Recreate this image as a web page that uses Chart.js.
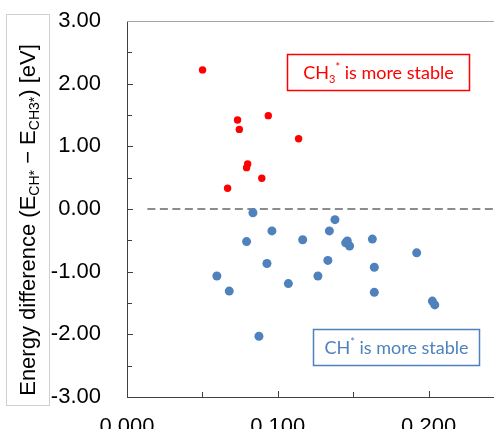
<!DOCTYPE html>
<html>
<head>
<meta charset="utf-8">
<script src="https://cdn.jsdelivr.net/npm/chart.js@4.4.1/dist/chart.umd.min.js"></script>
<style>
  html, body { margin: 0; padding: 0; background: #fff; overflow: hidden; width: 494px; height: 429px; }
  #wrap { position: absolute; left: 0; top: 0; width: 540px; height: 450px; }
</style>
</head>
<body>
<div id="wrap"><canvas id="energyChart" width="540" height="450"></canvas></div>
<script>
// points where CH3* is more stable (red)
const ch3X = [0.0501, 0.0733, 0.0745, 0.0937, 0.1138, 0.0800, 0.0793, 0.0894, 0.0667];
const ch3Y = [2.22, 1.42, 1.27, 1.49, 1.12, 0.72, 0.66, 0.49, 0.33];

// points where CH* is more stable (blue)
const chX = [0.0835, 0.0961, 0.0793, 0.1165, 0.0928, 0.0596, 0.0678, 0.1070, 0.0875, 0.1266,
             0.1379, 0.1342, 0.1332, 0.1450, 0.1461, 0.1476, 0.1627, 0.1640, 0.1640, 0.1921,
             0.2025, 0.2041];
const chY = [-0.06, -0.35, -0.52, -0.49, -0.87, -1.07, -1.31, -1.19, -2.03, -1.07,
             -0.17, -0.35, -0.82, -0.54, -0.51, -0.59, -0.48, -0.93, -1.33, -0.70,
             -1.47, -1.53];

// dashed zero line
const zeroX = [0.0135, 0.25];
const zeroY = [0, 0];

// tick labels
const xTickValues = [0, 0.1, 0.2];
const xTickLabels = ['0.000', '0.100', '0.200'];
const yTickValues = [-3, -2, -1, 0, 1, 2, 3];
const yTickLabels = ['-3.00', '-2.00', '-1.00', '0.00', '1.00', '2.00', '3.00'];

const toPoints = (xs, ys) => xs.map((x, i) => ({ x: x, y: ys[i] }));

function labelFor(values, labels, v) {
    const i = values.findIndex(t => Math.abs(t - v) < 1e-6);
    return i >= 0 ? labels[i] : '';
}

// inward tick marks + top frame line
const tickMarks = {
    id: 'tickMarks',
    afterDraw(chart) {
        const ctx = chart.ctx;
        const area = chart.chartArea;
        const xs = chart.scales.x, ys = chart.scales.y;
        ctx.save();
        ctx.strokeStyle = '#404040';
        ctx.lineWidth = 1;
        ctx.beginPath();
        xs.ticks.forEach(t => {
            const px = Math.round(xs.getPixelForValue(t.value)) + 0.5;
            const major = xTickValues.some(v => Math.abs(v - t.value) < 1e-6);
            ctx.moveTo(px, area.bottom);
            ctx.lineTo(px, area.bottom - (major ? 6 : 5));
        });
        ys.ticks.forEach(t => {
            const py = Math.round(ys.getPixelForValue(t.value)) + 0.5;
            const major = Number.isInteger(t.value);
            ctx.moveTo(area.left, py);
            ctx.lineTo(area.left + (major ? 6 : 5), py);
        });
        ctx.stroke();
        ctx.strokeStyle = '#a6a6a6';
        ctx.beginPath();
        ctx.moveTo(area.left, Math.round(area.top) + 0.5);
        ctx.lineTo(area.right, Math.round(area.top) + 0.5);
        ctx.stroke();
        ctx.restore();
    }
};

// rotated y title with subscripts, inside a light grey box
const yTitle = {
    id: 'yTitle',
    afterDraw(chart) {
        const ctx = chart.ctx;
        const parts = [
            { t: 'Energy difference (E', sub: false },
            { t: 'CH*', sub: true },
            { t: ' \u2212 E', sub: false },
            { t: 'CH3*', sub: true },
            { t: ') [eV]', sub: false }
        ];
        const big = '22px "Liberation Sans", Arial, sans-serif';
        const small = '14px "Liberation Sans", Arial, sans-serif';
        ctx.save();
        ctx.strokeStyle = '#d0d0d0';
        ctx.lineWidth = 1;
        ctx.strokeRect(6.5, 14.5, 43, 391);
        ctx.fillStyle = '#000';
        let total = 0;
        parts.forEach(p => {
            ctx.font = p.sub ? small : big;
            p.w = ctx.measureText(p.t).width;
            total += p.w;
        });
        ctx.translate(35, 220);
        ctx.rotate(-Math.PI / 2);
        ctx.textBaseline = 'alphabetic';
        let pos = -total / 2;
        parts.forEach(p => {
            ctx.font = p.sub ? small : big;
            ctx.fillText(p.t, pos, p.sub ? 4 : 0);
            pos += p.w;
        });
        ctx.restore();
    }
};

// the two "is more stable" notes
const notes = {
    id: 'notes',
    afterDraw(chart) {
        const ctx = chart.ctx;
        const xs = chart.scales.x, ys = chart.scales.y;
        const boxes = [
            { x: 0.1063, y: 2.48, w: 182, h: 36, color: '#ff0000', main: 'CH', sub: '3', sup: '*', rest: ' is more stable' },
            { x: 0.1233, y: -1.91, w: 166, h: 36, color: '#4f81bd', main: 'CH', sub: '', sup: '*', rest: ' is more stable' }
        ];
        const big = '18px Lato, "Open Sans", sans-serif';
        const small = '11px Lato, "Open Sans", sans-serif';
        ctx.save();
        boxes.forEach(b => {
            const left = Math.round(xs.getPixelForValue(b.x)) + 0.5;
            const top = Math.round(ys.getPixelForValue(b.y)) + 0.5;
            ctx.fillStyle = '#fff';
            ctx.fillRect(left, top, b.w, b.h);
            ctx.strokeStyle = b.color;
            ctx.lineWidth = 1.5;
            ctx.strokeRect(left, top, b.w, b.h);
            const segs = [
                { t: b.main, f: big, dy: 0 },
                { t: b.sub, f: small, dy: 4 },
                { t: b.sup, f: small, dy: -8 },
                { t: b.rest, f: big, dy: 0 }
            ];
            let total = 0;
            segs.forEach(s => { ctx.font = s.f; s.w = ctx.measureText(s.t).width; total += s.w; });
            let pos = left + (b.w - total) / 2;
            const base = top + b.h / 2 + 6;
            ctx.fillStyle = b.color;
            ctx.textBaseline = 'alphabetic';
            segs.forEach(s => {
                ctx.font = s.f;
                ctx.fillText(s.t, pos, base + s.dy);
                pos += s.w;
            });
        });
        ctx.restore();
    }
};

const ctx = document.getElementById('energyChart').getContext('2d');
new Chart(ctx, {
    type: 'scatter',
    data: {
        datasets: [
            {
                label: 'zero',
                type: 'line',
                data: toPoints(zeroX, zeroY),
                borderColor: '#8c8c8c',
                borderWidth: 2,
                borderDash: [8, 4.5],
                pointRadius: 0,
                fill: false,
                order: 3
            },
            {
                label: 'CH* more stable',
                data: toPoints(chX, chY),
                backgroundColor: '#4f81bd',
                borderColor: '#4f81bd',
                pointRadius: 4.5,
                borderWidth: 0,
                order: 2
            },
            {
                label: 'CH3* more stable',
                data: toPoints(ch3X, ch3Y),
                backgroundColor: '#ff0000',
                borderColor: '#ff0000',
                pointRadius: 3.7,
                borderWidth: 0,
                order: 1
            }
        ]
    },
    options: {
        responsive: false,
        animation: false,
        devicePixelRatio: 1,
        layout: { padding: { left: 0, top: 21, right: 36, bottom: 0 } },
        plugins: {
            legend: { display: false },
            tooltip: { enabled: false }
        },
        scales: {
            x: {
                type: 'linear',
                min: 0,
                max: 0.25,
                // invisible tick marks only push the labels away from the axis
                grid: { display: true, drawOnChartArea: false, drawTicks: true, tickLength: 17, tickColor: 'rgba(0,0,0,0)' },
                border: { display: true, color: '#404040', width: 1 },
                ticks: {
                    stepSize: 0.05,
                    autoSkip: false,
                    maxRotation: 0,
                    padding: 0,
                    color: '#000',
                    font: { family: '"Liberation Sans", Arial, sans-serif', size: 22 },
                    callback: v => labelFor(xTickValues, xTickLabels, v)
                },
                afterFit: s => { s.height = 53; }
            },
            y: {
                type: 'linear',
                min: -3,
                max: 3,
                grid: { display: true, drawOnChartArea: false, drawTicks: true, tickLength: 26, tickColor: 'rgba(0,0,0,0)' },
                border: { display: true, color: '#404040', width: 1 },
                ticks: {
                    stepSize: 0.5,
                    autoSkip: false,
                    padding: 0,
                    color: '#000',
                    font: { family: '"Liberation Sans", Arial, sans-serif', size: 22 },
                    callback: v => labelFor(yTickValues, yTickLabels, v)
                },
                afterFit: s => { s.width = 127; }
            }
        }
    },
    plugins: [tickMarks, yTitle, notes]
});
</script>
</body>
</html>
